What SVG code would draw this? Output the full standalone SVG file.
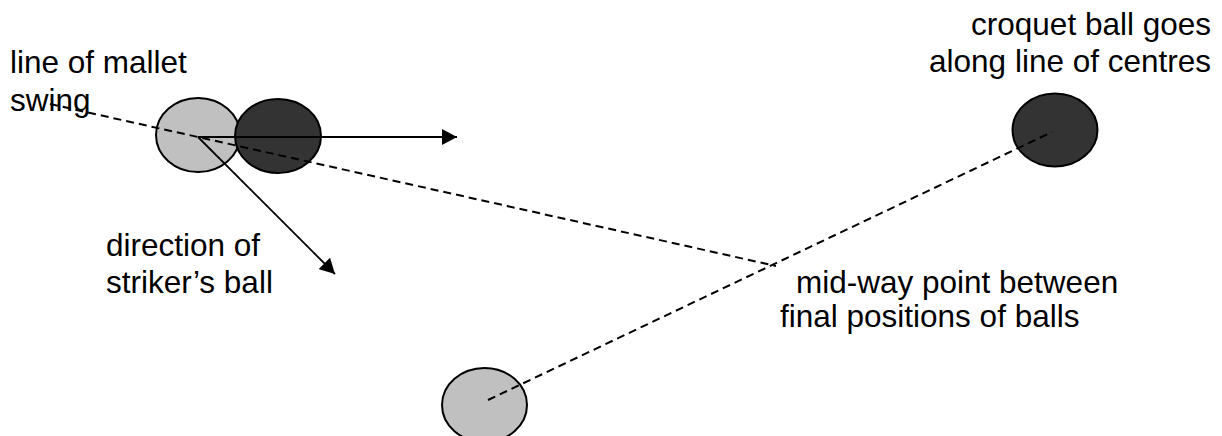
<svg xmlns="http://www.w3.org/2000/svg" width="1222" height="436" viewBox="0 0 1222 436">
<style>
.t{font-family:"Liberation Sans",Arial,sans-serif;font-size:31.5px;fill:#000}
.ball{stroke:#000;stroke-width:2}
.light{fill:#c0c0c0}
.dark{fill:#333333}
.dash{stroke:#000;stroke-width:2;stroke-dasharray:8 5;fill:none}
.arr{stroke:#000;stroke-width:1.8;fill:none;marker-end:url(#ah)}
</style>
<defs>
<marker id="ah" markerUnits="userSpaceOnUse" markerWidth="16" markerHeight="16" refX="15" refY="8" orient="auto">
<path d="M0,0 L15,8 L0,16 z" fill="#000"/>
</marker>
</defs>
<rect width="1222" height="436" fill="#fff"/>
<g id="striker-ball-start"><ellipse class="ball light" cx="198" cy="135" rx="42" ry="37"/></g>
<g id="croquet-ball-start"><ellipse class="ball dark" cx="278" cy="136" rx="43" ry="37"/></g>
<g id="striker-ball-final"><ellipse class="ball light" cx="484.5" cy="405" rx="42.5" ry="37"/></g>
<g id="croquet-ball-final"><ellipse class="ball dark" cx="1055" cy="130" rx="42.5" ry="36.5"/></g>
<g id="labels">
<text class="t" x="10" y="73">line of mallet</text>
<text class="t" x="10" y="111">swing</text>
<text class="t" x="106" y="256">direction of</text>
<text class="t" x="106" y="293">striker’s ball</text>
<text class="t" x="1211" y="35" text-anchor="end">croquet ball goes</text>
<text class="t" x="1211" y="72" text-anchor="end">along line of centres</text>
<text class="t" x="796" y="293">mid-way point between</text>
<text class="t" x="780" y="327">final positions of balls</text>
</g>
<g id="connectors">
<line class="dash" x1="50" y1="104" x2="776" y2="266"/>
<line class="dash" x1="488" y1="400" x2="1052" y2="132"/>
<line class="arr" x1="198" y1="137" x2="457" y2="137"/>
<line class="arr" x1="198" y1="137" x2="335" y2="274"/>
</g>
</svg>
